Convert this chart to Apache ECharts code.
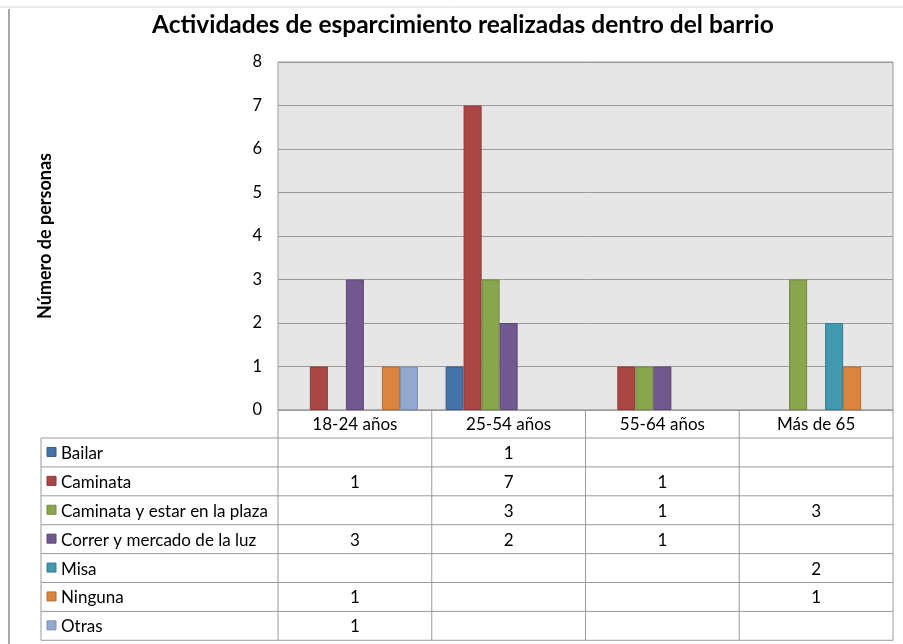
<!DOCTYPE html>
<html>
<head>
<meta charset="utf-8">
<script src="https://cdn.jsdelivr.net/npm/echarts@6/dist/echarts.min.js"></script>
<style>
  html, body { margin: 0; padding: 0; background: #fff; }
  #main { width: 903px; height: 644px; }
</style>
</head>
<body>
<div id="main"></div>
<script>
// data
const categories = ['18-24 años', '25-54 años', '55-64 años', 'Más de 65'];
const seriesNames = ['Bailar', 'Caminata', 'Caminata y estar en la plaza', 'Correr y mercado de la luz', 'Misa', 'Ninguna', 'Otras'];
const bailar = [null, 1, null, null];
const caminata = [1, 7, 1, null];
const caminataPlaza = [null, 3, 1, 3];
const correrMercado = [3, 2, 1, null];
const misa = [null, null, null, 2];
const ninguna = [1, null, null, 1];
const otras = [1, null, null, null];
const yTicks = { min: 0, max: 8, interval: 1 };

const seriesData = [bailar, caminata, caminataPlaza, correrMercado, misa, ninguna, otras];
const colors = ['#4572a7', '#aa4643', '#89a54e', '#71588f', '#4198af', '#db843d', '#93a9cf'];
const borders = ['#385d8a', '#8c3836', '#71893f', '#5c4776', '#357d91', '#b66d31', '#7a8eb3'];

const FONT = 'Lato, "Open Sans", sans-serif';
const lineCol = '#9a9a9a';
const TXT = 17;

var chart = echarts.init(document.getElementById('main'));

var option = {
    animation: false,
    backgroundColor: '#ffffff',
    textStyle: { fontFamily: FONT },
    title: {
        text: 'Actividades de esparcimiento realizadas dentro del barrio',
        left: 147,
        top: 8,
        textStyle: { fontFamily: FONT, fontSize: 24.5, fontWeight: 'bold', color: '#000' }
    },
    grid: {
        left: 278,
        right: 10,
        top: 62,
        bottom: 234,
        show: true,
        backgroundColor: '#e6e6e6',
        borderColor: lineCol,
        borderWidth: 1
    },
    xAxis: {
        type: 'category',
        data: categories,
        axisLine: { show: false },
        axisTick: { show: false },
        axisLabel: { show: false }
    },
    yAxis: {
        type: 'value',
        min: yTicks.min,
        max: yTicks.max,
        interval: yTicks.interval,
        name: 'Número de personas',
        nameLocation: 'middle',
        nameGap: 224,
        nameRotate: 90,
        nameTextStyle: { fontFamily: FONT, fontSize: 18, fontWeight: 'bold', color: '#000' },
        axisLine: { show: false },
        axisTick: { show: false },
        axisLabel: { fontFamily: FONT, fontSize: 16.5, color: '#000', margin: 16 },
        splitLine: { lineStyle: { color: lineCol, width: 1 } }
    },
    series: seriesNames.map((name, i) => ({
        name: name,
        type: 'bar',
        data: seriesData[i],
        barGap: '0%',
        barCategoryGap: '18%',
        itemStyle: { color: colors[i], borderColor: borders[i], borderWidth: 1 }
    }))
};

chart.setOption(option);

// data table under the plot, aligned to the category axis
function buildTable() {
    const c0 = chart.convertToPixel({ xAxisIndex: 0 }, 0);
    const c1 = chart.convertToPixel({ xAxisIndex: 0 }, 1);
    const band = c1 - c0;
    const plotBottom = chart.convertToPixel({ yAxisIndex: 0 }, 0);
    const leftEdge = 41;
    const colStart = c0 - band / 2;
    const colEnd = colStart + band * categories.length;
    const headH = 28;
    const rowH = 28.9;
    const rowsTop = plotBottom + headH;
    const tableBottom = rowsTop + rowH * seriesNames.length;
    const g = [];
    const line = (x1, y1, x2, y2) => g.push({
        type: 'line', silent: true,
        shape: { x1: x1, y1: y1, x2: x2, y2: y2 },
        style: { stroke: lineCol, lineWidth: 1 }
    });
    const text = (x, y, s, align) => g.push({
        type: 'text', silent: true, x: x, y: y,
        style: { text: s, fill: '#000', font: TXT + 'px ' + FONT, align: align, verticalAlign: 'middle' }
    });

    // vertical lines
    for (let i = 0; i <= categories.length; i++) {
        line(colStart + band * i, plotBottom, colStart + band * i, tableBottom);
    }
    line(leftEdge, rowsTop, leftEdge, tableBottom);
    // horizontal lines
    line(colStart, plotBottom, colEnd, plotBottom);
    for (let r = 0; r <= seriesNames.length; r++) {
        line(leftEdge, rowsTop + rowH * r, colEnd, rowsTop + rowH * r);
    }
    // header
    categories.forEach((c, i) => text(colStart + band * (i + 0.5), plotBottom + headH / 2 + 1, c, 'center'));
    // rows
    seriesNames.forEach((name, r) => {
        const cy = rowsTop + rowH * (r + 0.5);
        g.push({
            type: 'rect', silent: true,
            shape: { x: 47, y: cy - 5, width: 9, height: 9 },
            style: { fill: colors[r], stroke: borders[r], lineWidth: 1 }
        });
        text(61, cy + 1, name, 'left');
        seriesData[r].forEach((v, i) => {
            if (v !== null) text(colStart + band * (i + 0.5), cy + 1, String(v), 'center');
        });
    });
    // sheet frame lines
    g.push({ type: 'line', silent: true, shape: { x1: 0, y1: 7, x2: 903, y2: 7 }, style: { stroke: '#d4d8de', lineWidth: 1 } });
    g.push({ type: 'line', silent: true, shape: { x1: 9, y1: 9, x2: 9, y2: 644 }, style: { stroke: '#a8a8a8', lineWidth: 2 } });

    chart.setOption({ graphic: g });
}
buildTable();
</script>
</body>
</html>
